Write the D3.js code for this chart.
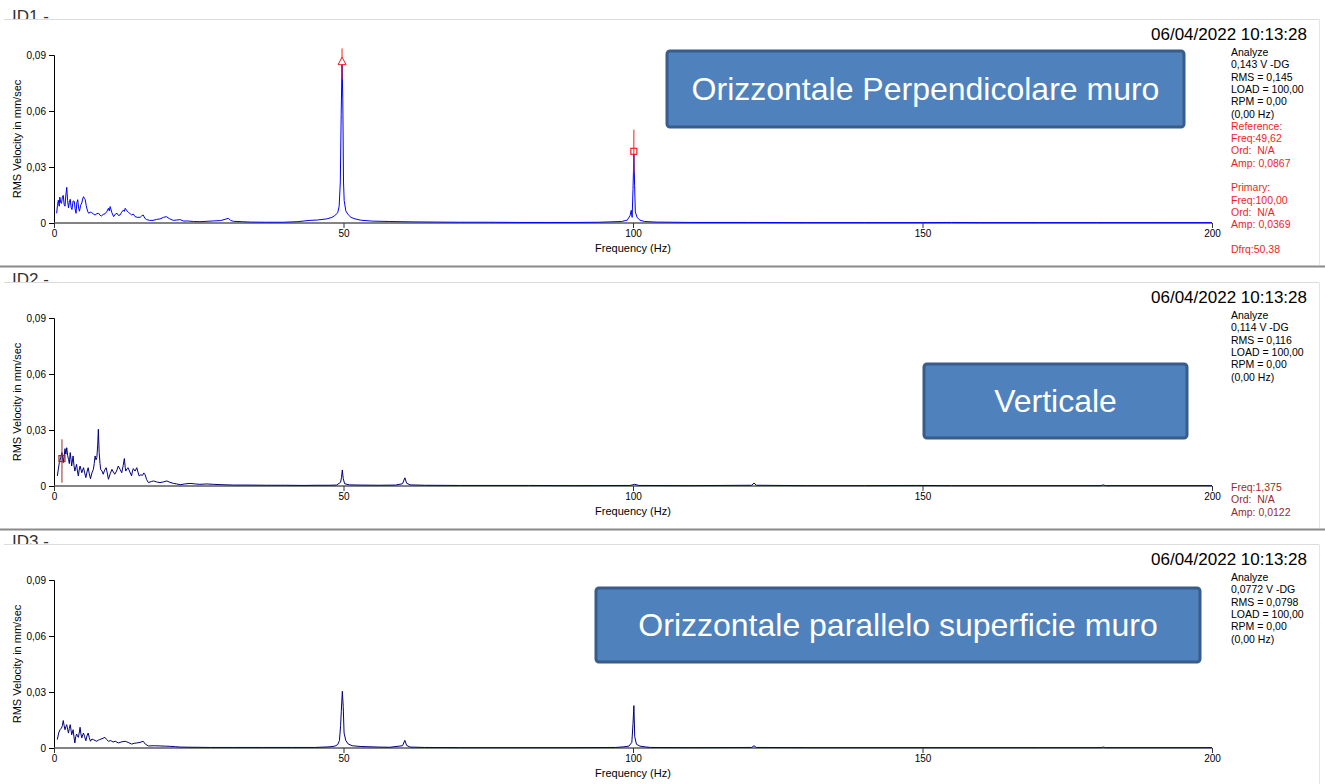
<!DOCTYPE html>
<html>
<head>
<meta charset="utf-8">
<script src="https://cdn.jsdelivr.net/npm/d3@7/dist/d3.min.js"></script>
<style>
  html, body { margin: 0; padding: 0; background: #fff; }
  svg { display: block; font-family: "Liberation Sans", Arial, sans-serif; }
</style>
</head>
<body>
<svg id="chart" width="1325" height="784"></svg>
<script>
// ---------------- DATA ----------------
const xTicks = [0, 50, 100, 150, 200];
const yTicks = [0, 0.03, 0.06, 0.09];
const panelIds = ["ID1 -", "ID2 -", "ID3 -"];
const timestamps = ["06/04/2022 10:13:28", "06/04/2022 10:13:28", "06/04/2022 10:13:28"];
const boxTitles = ["Orizzontale Perpendicolare muro", "Verticale", "Orizzontale parallelo superficie muro"];
const xAxisTitle = "Frequency (Hz)";
const yAxisTitle = "RMS Velocity in mm/sec";

const info1 = ["Analyze", "0,143 V -DG", "RMS = 0,145", "LOAD = 100,00", "RPM = 0,00", "(0,00 Hz)"];
const cursorText1 = ["Reference:", "Freq:49,62", "Ord:  N/A", "Amp: 0,0867", "", "Primary:", "Freq:100,00", "Ord:  N/A", "Amp: 0,0369", "", "Dfrq:50,38"];
const info2 = ["Analyze", "0,114 V -DG", "RMS = 0,116", "LOAD = 100,00", "RPM = 0,00", "(0,00 Hz)"];
const cursorText2 = ["Freq:1,375", "Ord:  N/A", "Amp: 0,0122"];
const info3 = ["Analyze", "0,0772 V -DG", "RMS = 0,0798", "LOAD = 100,00", "RPM = 0,00", "(0,00 Hz)"];

// spectrum [frequency Hz, RMS velocity mm/sec]
const spectrum1 = [
 [0.46,0.0052],[0.6,0.0095],[0.75,0.0122],[0.9,0.0090],[1.0,0.0139],[1.15,0.0110],[1.3,0.0105],[1.45,0.0140],
 [1.6,0.0148],[1.75,0.0100],[1.9,0.0090],[2.05,0.0150],[2.2,0.0191],[2.35,0.0120],[2.5,0.0081],[2.65,0.0110],
 [2.8,0.0127],[2.95,0.0085],[3.1,0.0072],[3.3,0.0118],[3.5,0.0116],[3.65,0.0075],[3.8,0.0052],[3.95,0.0110],
 [4.1,0.0125],[4.25,0.0080],[4.4,0.0063],[4.6,0.0095],[4.8,0.0107],[4.95,0.0128],[5.1,0.0141],[5.25,0.0132],
 [5.4,0.0125],[5.55,0.0095],[5.7,0.0075],[5.85,0.0060],[6.0,0.0052],[6.25,0.0058],[6.5,0.0056],[6.8,0.0048],
 [7.1,0.0043],[7.4,0.0050],[7.7,0.0052],[7.95,0.0042],[8.2,0.0038],[8.5,0.0046],[8.8,0.0049],[9.1,0.0060],
 [9.4,0.0079],[9.55,0.0065],[9.7,0.0088],[10.0,0.0055],[10.3,0.0034],[10.6,0.0048],[10.9,0.0052],[11.15,0.0040],
 [11.4,0.0043],[11.7,0.0058],[12.0,0.0070],[12.15,0.0062],[12.3,0.0079],[12.6,0.0065],[12.9,0.0056],[13.15,0.0050],
 [13.4,0.0043],[13.7,0.0048],[14.0,0.0034],[14.45,0.0030],[14.9,0.0031],[15.15,0.0038],[15.4,0.0043],[15.7,0.0025],
 [16.0,0.0018],[16.5,0.0014],[17.1,0.0014],[17.7,0.0019],[18.3,0.0022],[18.9,0.0030],[19.4,0.0034],[20.0,0.0022],
 [20.6,0.0014],[21.2,0.0016],[21.8,0.0018],[22.4,0.0010],[23.0,0.0011],[24.1,0.0008],[25.2,0.0007],[26.4,0.0009],
 [27.5,0.0011],[28.8,0.0013],[30.1,0.0025],[30.5,0.0014],[31.0,0.0009],[32.5,0.0007],[33.9,0.0005],[36.5,0.0004],
 [39.6,0.0004],[42.0,0.0007],[44.2,0.0014],[45.5,0.0016],[47.1,0.0022],[48.0,0.0030],[48.5,0.0040],[49.0,0.0055],
 [49.25,0.0090],[49.45,0.0220],[49.6,0.0580],[49.75,0.0867],[49.88,0.0660],[50.0,0.0220],[50.12,0.0120],[50.4,0.0065],
 [50.8,0.0045],[51.3,0.0030],[52.0,0.0022],[53.0,0.0015],[55.0,0.0010],[58.0,0.0008],[62.0,0.0006],[66.0,0.0005],
 [70.0,0.0004],[75.0,0.0004],[80.0,0.0003],[85.0,0.0003],[90.0,0.0003],[94.0,0.0004],[96.0,0.0006],[98.0,0.0008],
 [99.0,0.0015],[99.5,0.0040],[99.7,0.0068],[99.85,0.0030],[100.0,0.0180],[100.15,0.0369],[100.28,0.0200],[100.4,0.0060],
 [100.7,0.0030],[101.2,0.0015],[102.0,0.0008],[104.0,0.0005],[110.0,0.0003],[120.0,0.0003],[130.0,0.0002],[140.0,0.0002],
 [150.0,0.0002],[155.0,0.0003],[160.0,0.0002],[170.0,0.0002],[180.0,0.0002],[190.0,0.0002],[200.0,0.0002]
];

const spectrum2 = [
 [0.58,0.0054],[0.75,0.0090],[0.92,0.0125],[1.15,0.0152],[1.38,0.0179],[1.6,0.0125],[1.75,0.0160],[1.9,0.0200],
 [2.05,0.0170],[2.2,0.0205],[2.35,0.0165],[2.5,0.0143],[2.65,0.0120],[2.8,0.0179],[2.95,0.0140],[3.05,0.0107],
 [3.2,0.0140],[3.3,0.0161],[3.45,0.0110],[3.6,0.0080],[3.75,0.0100],[3.9,0.0116],[4.05,0.0080],[4.2,0.0054],
 [4.35,0.0085],[4.5,0.0107],[4.65,0.0090],[4.8,0.0071],[4.95,0.0085],[5.1,0.0098],[5.3,0.0070],[5.5,0.0045],
 [5.7,0.0075],[5.9,0.0098],[6.1,0.0065],[6.3,0.0039],[6.55,0.0070],[6.8,0.0089],[6.95,0.0120],[7.1,0.0161],
 [7.25,0.0140],[7.4,0.0152],[7.55,0.0220],[7.66,0.0304],[7.8,0.0179],[7.95,0.0120],[8.06,0.0089],[8.3,0.0080],
 [8.5,0.0063],[8.75,0.0085],[9.0,0.0098],[9.2,0.0070],[9.4,0.0036],[9.7,0.0065],[10.0,0.0089],[10.25,0.0075],
 [10.5,0.0063],[10.8,0.0080],[11.1,0.0107],[11.4,0.0090],[11.7,0.0071],[11.95,0.0110],[12.15,0.0147],[12.3,0.0100],
 [12.4,0.0080],[12.6,0.0092],[12.8,0.0098],[13.1,0.0075],[13.4,0.0054],[13.55,0.0080],[13.7,0.0093],[14.0,0.0080],
 [14.3,0.0098],[14.5,0.0075],[14.7,0.0054],[15.0,0.0060],[15.3,0.0057],[15.5,0.0070],[15.7,0.0063],[16.0,0.0035],
 [16.3,0.0018],[16.8,0.0024],[17.2,0.0027],[17.7,0.0022],[18.3,0.0018],[18.9,0.0022],[19.5,0.0027],[20.0,0.0020],
 [20.6,0.0014],[21.2,0.0011],[21.8,0.0007],[22.6,0.0011],[23.5,0.0014],[24.4,0.0011],[25.2,0.0009],[26.4,0.0011],
 [27.5,0.0009],[29.0,0.0007],[31.0,0.0005],[33.5,0.0005],[36.7,0.0004],[40.0,0.0004],[43.0,0.0003],[45.4,0.0004],
 [47.5,0.0004],[48.8,0.0005],[49.5,0.0020],[49.65,0.0045],[49.8,0.0086],[49.95,0.0040],[50.2,0.0012],[51.0,0.0006],
 [53.0,0.0005],[56.0,0.0004],[59.0,0.0005],[60.2,0.0012],[60.6,0.0044],[60.9,0.0015],[61.5,0.0006],[64.0,0.0004],
 [70.0,0.0003],[76.0,0.0003],[82.0,0.0003],[90.0,0.0002],[99.5,0.0003],[100.3,0.0009],[101.0,0.0003],[110.0,0.0002],
 [120.5,0.0004],[120.9,0.0016],[121.3,0.0004],[130.0,0.0002],[140.0,0.0002],[149.0,0.0003],[155.0,0.0002],[165.0,0.0002],
 [180.8,0.0002],[181.2,0.0006],[181.6,0.0002],[190.0,0.0002],[200.0,0.0002]
];

const spectrum3 = [
 [0.58,0.0045],[0.8,0.0080],[1.04,0.0098],[1.3,0.0107],[1.45,0.0120],[1.6,0.0147],[1.75,0.0120],[1.9,0.0098],
 [2.05,0.0115],[2.2,0.0125],[2.35,0.0100],[2.5,0.0080],[2.65,0.0105],[2.8,0.0125],[2.95,0.0095],[3.05,0.0071],
 [3.2,0.0085],[3.3,0.0098],[3.45,0.0060],[3.6,0.0027],[3.75,0.0060],[3.9,0.0075],[4.05,0.0065],[4.2,0.0057],
 [4.35,0.0080],[4.5,0.0111],[4.65,0.0075],[4.8,0.0054],[4.95,0.0070],[5.1,0.0080],[5.3,0.0060],[5.5,0.0039],
 [5.7,0.0065],[5.9,0.0080],[6.1,0.0055],[6.3,0.0036],[6.55,0.0048],[6.8,0.0045],[7.1,0.0040],[7.4,0.0036],
 [7.65,0.0042],[7.9,0.0045],[8.3,0.0050],[8.8,0.0057],[9.1,0.0045],[9.4,0.0036],[9.8,0.0040],[10.2,0.0032],
 [10.6,0.0036],[11.1,0.0027],[11.7,0.0033],[12.3,0.0036],[12.8,0.0030],[13.4,0.0021],[13.85,0.0025],[14.3,0.0027],
 [14.85,0.0030],[15.4,0.0036],[15.8,0.0020],[16.3,0.0011],[17.3,0.0012],[18.3,0.0011],[19.2,0.0010],[20.0,0.0009],
 [21.0,0.0007],[21.8,0.0005],[24.0,0.0004],[27.0,0.0003],[31.0,0.0003],[36.0,0.0003],[41.0,0.0003],[45.0,0.0003],
 [47.5,0.0006],[48.5,0.0010],[49.0,0.0018],[49.3,0.0040],[49.5,0.0120],[49.62,0.0197],[49.8,0.0304],[49.95,0.0223],
 [50.1,0.0080],[50.4,0.0040],[50.8,0.0022],[51.5,0.0012],[53.0,0.0008],[56.0,0.0005],[58.0,0.0004],[60.2,0.0012],
 [60.6,0.0041],[60.9,0.0014],[61.5,0.0005],[64.0,0.0003],[70.0,0.0002],[80.0,0.0002],[90.0,0.0002],[97.0,0.0003],
 [98.3,0.0006],[99.3,0.0010],[99.8,0.0030],[100.0,0.0130],[100.15,0.0227],[100.3,0.0060],[100.6,0.0020],[101.2,0.0010],
 [102.1,0.0006],[103.0,0.0003],[110.0,0.0002],[120.5,0.0003],[120.9,0.0012],[121.3,0.0003],[130.0,0.0002],[150.0,0.0002],
 [170.0,0.0002],[180.8,0.0002],[181.2,0.0005],[181.6,0.0002],[190.0,0.0002],[200.0,0.0002]
];

// cursors [frequency, line top amp, line bottom amp, marker amp, marker type]
const cursors1 = [[49.75, 0.0935, 0.0770, 0.0867, "triangle"], [100.15, 0.0500, 0.0265, 0.0384, "square"]];
const cursors2 = [[1.375, 0.0250, 0.0018, 0.0147, "square"]];

// ---------------- DRAWING ----------------
const svg = d3.select("#chart");
const decFmt = d3.formatLocale({decimal: ",", thousands: ".", grouping: [3], currency: ["", "€"]}).format(".2f");

const panelOffsets = [0, 263, 525];
const x = d3.scaleLinear().domain([0, 200]).range([54, 1212]);

// separators
[266.5, 529.5].forEach(yy => {
  svg.append("line").attr("x1", 0).attr("x2", 1325).attr("y1", yy).attr("y2", yy)
    .attr("stroke", "#8a8a8a").attr("stroke-width", 2);
});

function drawPanel(i, spectrum, color, info, cursors, cursorText, cursorColor, cursorTextStart, box) {
  const off = panelOffsets[i];
  const g = svg.append("g");
  const y = d3.scaleLinear().domain([0, 0.09]).range([223 + off, 55 + off]);

  // header frame
  const clipId = "clip" + i;
  svg.append("clipPath").attr("id", clipId).append("rect")
    .attr("x", 0).attr("y", off).attr("width", 200).attr("height", 19);
  g.append("text").attr("x", 12).attr("y", off + 22).attr("clip-path", `url(#${clipId})`)
    .attr("font-size", 17).attr("fill", "#333").text(panelIds[i]);
  g.append("line").attr("x1", 4).attr("x2", 1319).attr("y1", off + 19.5).attr("y2", off + 19.5)
    .attr("stroke", "#dcdcdc").attr("stroke-width", 1);
  g.append("line").attr("x1", 1319.5).attr("x2", 1319.5).attr("y1", off + 19.5).attr("y2", off + 265)
    .attr("stroke", "#e4e4e4").attr("stroke-width", 1);

  // date
  g.append("text").attr("x", 1307).attr("y", off + 40).attr("text-anchor", "end")
    .attr("font-size", 17).attr("fill", "#000").text(timestamps[i]);

  // y axis
  const yAxis = d3.axisLeft(y).tickValues(yTicks).tickSize(5).tickPadding(3)
    .tickFormat(d => d === 0 ? "0" : decFmt(d));
  const ya = g.append("g").attr("transform", "translate(54,0)").call(yAxis);
  ya.selectAll("text").attr("font-size", 10).attr("font-family", "Liberation Sans, Arial, sans-serif").attr("fill", "#000");
  ya.selectAll("line").attr("stroke", "#000");
  ya.select(".domain").attr("stroke", "#000");

  // x axis
  const xAxis = d3.axisBottom(x).tickValues(xTicks).tickSize(5).tickPadding(2).tickFormat(d3.format("d"));
  const xa = g.append("g").attr("transform", `translate(0,${223 + off})`).call(xAxis);
  xa.selectAll("text").attr("font-size", 10).attr("font-family", "Liberation Sans, Arial, sans-serif").attr("fill", "#000");
  xa.selectAll("line").attr("stroke", "#333");
  xa.select(".domain").attr("stroke", "#5a5a5a").attr("stroke-width", 1.6).attr("d", `M54,0H1212`);

  // axis titles
  g.append("text").attr("x", 633).attr("y", off + 252).attr("text-anchor", "middle")
    .attr("font-size", 11).attr("fill", "#000").text(xAxisTitle);
  g.append("text").attr("transform", `translate(21,${off + 139}) rotate(-90)`).attr("text-anchor", "middle")
    .attr("font-size", 11).attr("fill", "#000").text(yAxisTitle);

  // spectrum line
  const line = d3.line().x(d => x(d[0])).y(d => y(d[1]));
  g.append("path").datum(spectrum).attr("d", line).attr("fill", "none")
    .attr("stroke", color).attr("stroke-width", 1).attr("stroke-linejoin", "round");

  // cursors
  cursors.forEach(c => {
    const cx = x(c[0]);
    g.append("line").attr("x1", cx).attr("x2", cx).attr("y1", y(c[1])).attr("y2", y(c[2]))
      .attr("stroke", cursorColor).attr("stroke-width", 1);
    const my = y(c[3]);
    if (c[4] === "triangle") {
      g.append("path").attr("d", `M${cx},${my - 4}L${cx + 4},${my + 3.5}L${cx - 4},${my + 3.5}Z`)
        .attr("fill", "#fff").attr("stroke", cursorColor).attr("stroke-width", 1);
    } else {
      g.append("rect").attr("x", cx - 3).attr("y", my - 3).attr("width", 6).attr("height", 6)
        .attr("fill", "none").attr("stroke", cursorColor).attr("stroke-width", 1.2);
    }
  });

  // info text
  const lh = 12.3;
  info.forEach((t, k) => {
    g.append("text").attr("x", 1231).attr("y", off + 56 + k * lh).attr("font-size", 10.5)
      .attr("fill", "#000").text(t);
  });
  cursorText.forEach((t, k) => {
    if (!t) return;
    g.append("text").attr("x", 1231).attr("y", cursorTextStart + k * lh).attr("font-size", 10.5)
      .attr("fill", cursorColor).attr("xml:space", "preserve").style("white-space", "pre").text(t);
  });

  // label box
  const bg = g.append("g");
  bg.append("rect").attr("x", box[0]).attr("y", box[1]).attr("width", box[2] - box[0]).attr("height", box[3] - box[1])
    .attr("rx", 3).attr("fill", "#4f81bd").attr("stroke", "#385d8a").attr("stroke-width", 3);
  bg.append("text").attr("x", (box[0] + box[2]) / 2).attr("y", (box[1] + box[3]) / 2 + 11)
    .attr("text-anchor", "middle").attr("font-size", 32).attr("fill", "#fff").text(boxTitles[i]);
}

drawPanel(0, spectrum1, "#0000ff", info1, cursors1, cursorText1, "#f01e1e", 56 + 6 * 12.3, [667, 51, 1184, 127]);
drawPanel(1, spectrum2, "#000080", info2, cursors2, cursorText2, "#9b2a2a", 491, [924, 364, 1187, 438]);
drawPanel(2, spectrum3, "#000080", info3, [], [], "#000", 0, [596, 588, 1200, 662]);
</script>
</body>
</html>
